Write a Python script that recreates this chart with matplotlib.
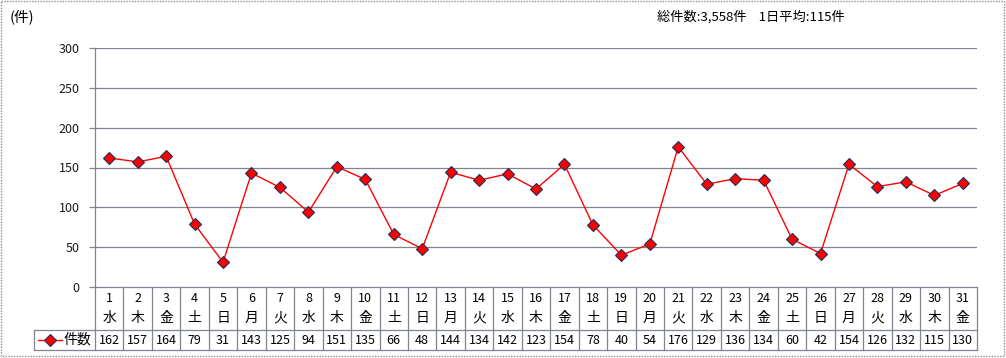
import matplotlib
matplotlib.use("Agg")
import matplotlib.pyplot as plt
from matplotlib.patches import Rectangle

plt.rcParams['font.family'] = ['Noto Sans CJK JP', 'DejaVu Sans']

days = list(range(1, 32))
weekdays = ["水", "木", "金", "土", "日", "月", "火"] * 5
weekdays = weekdays[:31]
counts = [162, 157, 164, 79, 31, 143, 125, 94, 151, 135, 66, 48, 144, 134, 142,
          123, 154, 78, 40, 54, 176, 129, 136, 134, 60, 42, 154, 126, 132, 115, 130]
series_name = "件数"
yticks = [0, 50, 100, 150, 200, 250, 300]
unit_label = "(件)"
summary = "総件数:3,558件    1日平均:115件"

W, H = 1006, 358
fig = plt.figure(figsize=(W / 100, H / 100), dpi=100)

def fx(px):
    return px / W

def fy(py):
    return 1 - py / H

L, R, T, B = 95, 977, 48, 287
ax = fig.add_axes([fx(L), fy(B), fx(R - L), (B - T) / H])
x = list(range(len(counts)))
grid_c = "#808691"
ax.set_xlim(-0.5, len(counts) - 0.5)
ax.set_ylim(0, 300)
ax.set_yticks(yticks)
for v in yticks[1:]:
    ax.axhline(v, color=grid_c, lw=0.9, zorder=1)
ax.plot(x, counts, color="#FF0000", lw=1.0, marker="D", markersize=6.5,
        markerfacecolor="#FF0000", markeredgecolor="#1F2F5F", markeredgewidth=0.8, zorder=3)
for s in ["top", "right", "bottom"]:
    ax.spines[s].set_visible(False)
ax.spines["left"].set_color(grid_c)
ax.spines["left"].set_linewidth(0.9)
ax.set_xticks([])
ax.tick_params(axis="y", length=4, width=0.9, color=grid_c, labelsize=9, pad=7,
               labelcolor="#1a1a1a")
ax.axhline(0, color=grid_c, lw=0.9, zorder=1, clip_on=False)

# data table
ov = fig.add_axes([0, 0, 1, 1], facecolor="none")
ov.set_xlim(0, W)
ov.set_ylim(H, 0)
ov.axis("off")

n = len(counts)
cw = (R - L) / n
row_mid, row_bot = 330, 350
lc = dict(color=grid_c, lw=0.9)
for i in range(n + 1):
    xx = L + i * cw
    ov.plot([xx, xx], [B, row_bot], **lc)
ov.plot([34, R], [row_mid, row_mid], **lc)
ov.plot([34, R], [row_bot, row_bot], **lc)
ov.plot([34, 34], [row_mid, row_bot], **lc)
for i in range(n):
    cx = L + (i + 0.5) * cw
    ov.text(cx, 298, str(days[i]), ha="center", va="center", fontsize=9, color="black")
    ov.text(cx, 318, weekdays[i], ha="center", va="center", fontsize=10, color="black")
    ov.text(cx, 340, str(counts[i]), ha="center", va="center", fontsize=9, color="black")
# legend key
ov.plot([38, 62], [340, 340], color="#FF0000", lw=1.0)
ov.plot([50], [340], marker="D", markersize=6, color="#FF0000",
        markeredgecolor="#1F2F5F", markeredgewidth=0.8)
ov.text(64, 340, series_name, ha="left", va="center", fontsize=10, color="black")

ov.text(10, 17, unit_label, ha="left", va="center", fontsize=10.5, color="black")
ov.text(657, 17, summary, ha="left", va="center", fontsize=9.5, color="black")

ov.add_patch(Rectangle((1, 1), W - 3, H - 3, fill=False, edgecolor="#8c8c8c",
                       lw=1.0, ls=(0, (1, 1))))

fig.savefig("out.png", dpi=100, facecolor="white")
